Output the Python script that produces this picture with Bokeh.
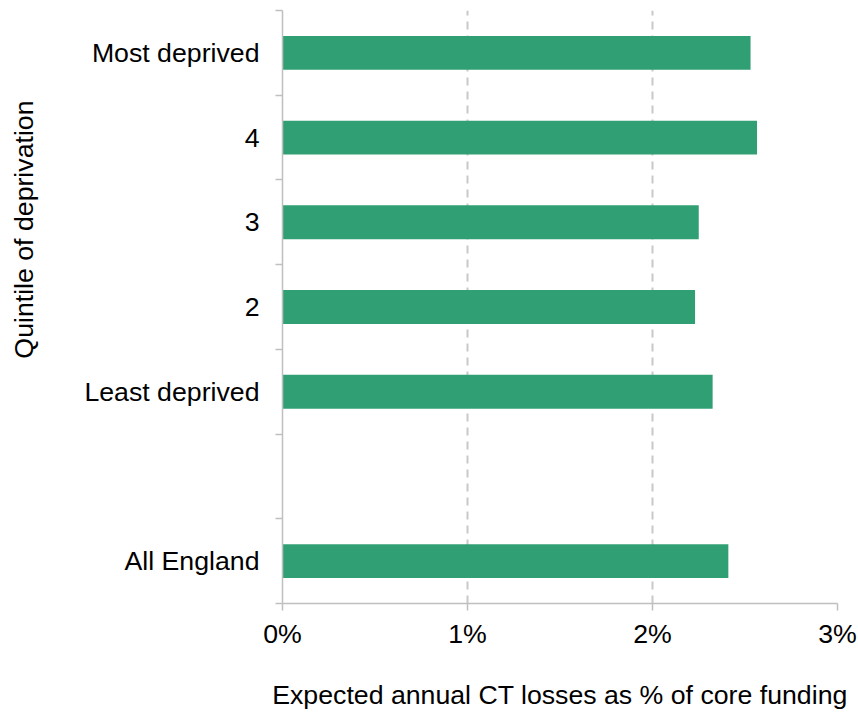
from bokeh.plotting import figure
from bokeh.models import Range1d, FixedTicker, Title
from bokeh.embed import file_html
from bokeh.resources import INLINE

categories = ["Most deprived", "4", "3", "2", "Least deprived", " ", "All England"]
values = [2.53, 2.565, 2.25, 2.23, 2.325, None, 2.41]
x_ticks = [0, 1, 2, 3]
x_tick_labels = ["0%", "1%", "2%", "3%"]

FONT = "Liberation Sans"
FS = "26.7px"
GREY = "#bfbfbf"

n = len(categories)
ypos = [n - i - 0.5 for i in range(n)]
bar_y = [y for y, v in zip(ypos, values) if v is not None]
bar_v = [v for v in values if v is not None]

p = figure(width=858, height=715, output_backend="svg", toolbar_location=None,
           x_range=Range1d(0, 3), y_range=Range1d(0, n),
           min_border_left=0, min_border_right=21, min_border_top=10,
           min_border_bottom=112)
p.outline_line_color = None
p.background_fill_color = "white"

p.hbar(y=bar_y, left=0, right=bar_v, height=0.4, fill_color="#319f74",
       line_color=None)

# x axis
xa = p.xaxis[0]
xa.ticker = FixedTicker(ticks=x_ticks)
xa.major_label_overrides = {t: l for t, l in zip(x_ticks, x_tick_labels)}
xa.axis_line_color = GREY
xa.axis_line_width = 1.5
xa.major_tick_line_color = GREY
xa.major_tick_line_width = 1.5
xa.major_tick_out = 7
xa.major_tick_in = 0
xa.minor_tick_line_color = None
xa.major_label_text_font = FONT
xa.major_label_text_font_size = FS
xa.major_label_text_color = "black"
xa.major_label_standoff = 8
xa.axis_label = "Expected annual CT losses as % of core funding"
xa.axis_label_text_font = FONT
xa.axis_label_text_font_size = FS
xa.axis_label_text_font_style = "normal"
xa.axis_label_text_color = "black"
xa.axis_label_standoff = 28

# y axis
ya = p.yaxis[0]
ya.ticker = FixedTicker(ticks=ypos, minor_ticks=list(range(n + 1)))
ya.major_label_overrides = {y: c for y, c in zip(ypos, categories)}
ya.axis_line_color = GREY
ya.axis_line_width = 1.5
ya.major_tick_line_color = None
ya.major_tick_out = 0
ya.major_tick_in = 0
ya.minor_tick_line_color = GREY
ya.minor_tick_line_width = 1.5
ya.minor_tick_out = 7
ya.minor_tick_in = 0
ya.major_label_text_font = FONT
ya.major_label_text_font_size = FS
ya.major_label_text_color = "black"
ya.major_label_standoff = 16
# invisible spacer label to set the gap between tick labels and the title
ya.axis_label = " "
ya.axis_label_text_font_size = "1px"
ya.axis_label_standoff = 29

p.add_layout(Title(text="Quintile of deprivation", text_font=FONT,
                   text_font_size=FS, text_font_style="normal",
                   text_color="black", align="right", offset=90,
                   vertical_align="top", standoff=16), "left")

# grid
p.ygrid.grid_line_color = None
p.xgrid.ticker = FixedTicker(ticks=x_ticks[1:])
p.xgrid.grid_line_color = "#c8c8c8"
p.xgrid.grid_line_width = 2
p.xgrid.grid_line_dash = "8 6"

open("out.html", "w").write(file_html(p, INLINE))
